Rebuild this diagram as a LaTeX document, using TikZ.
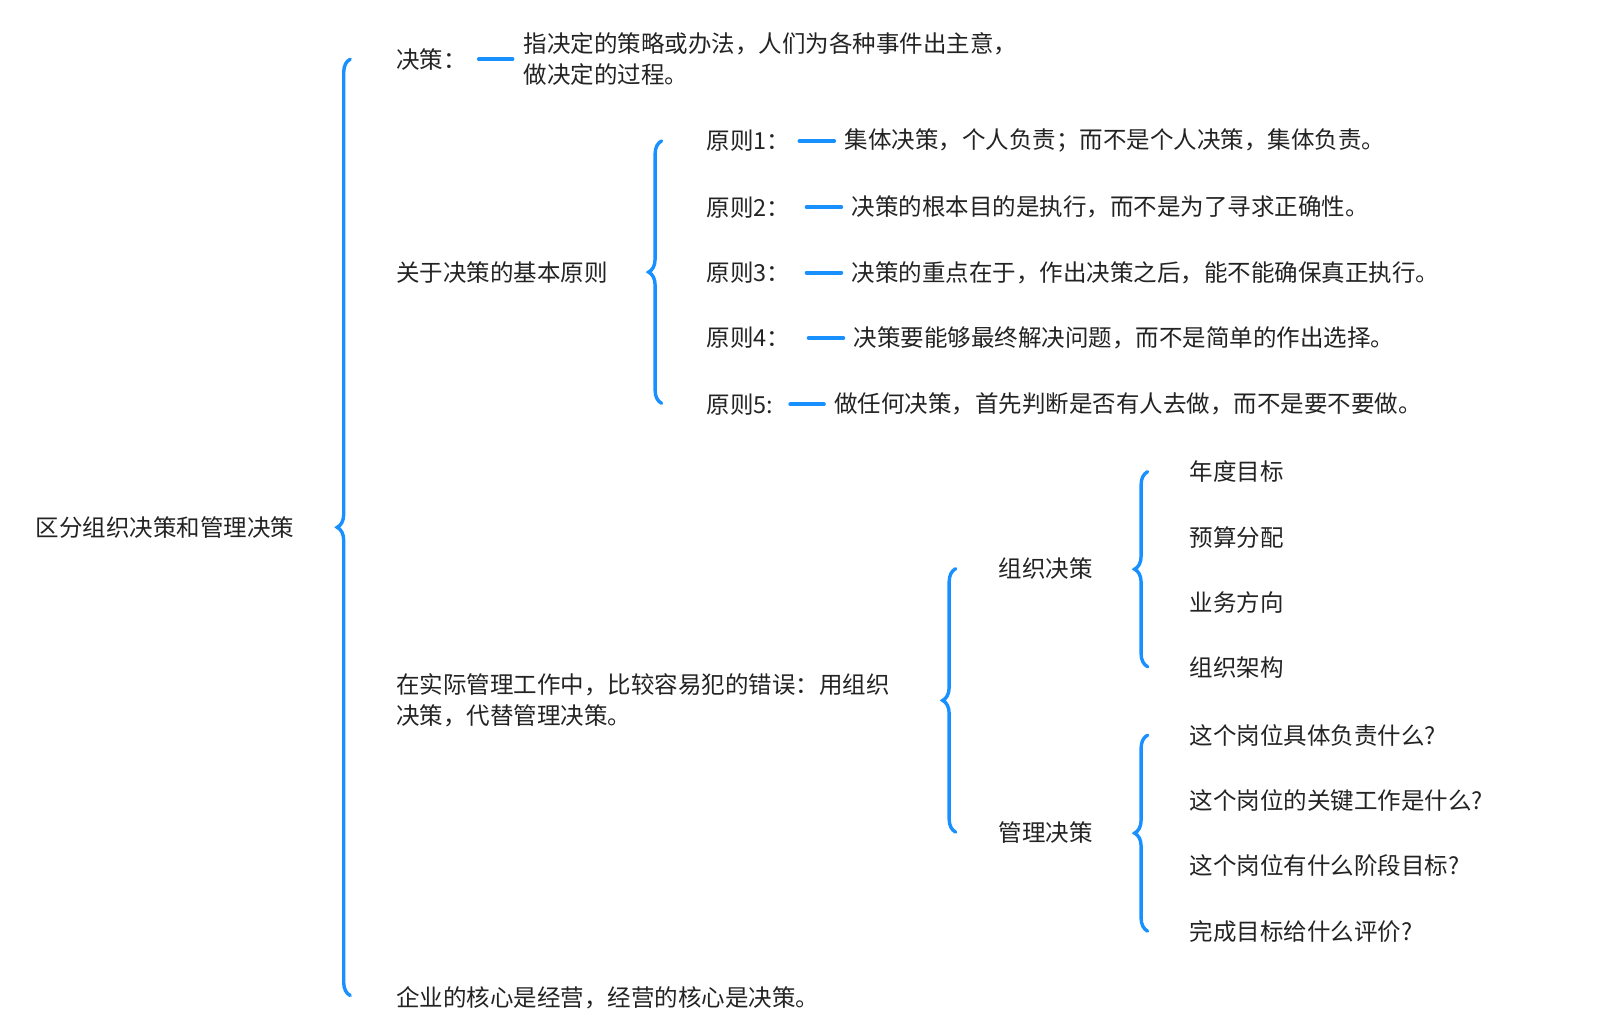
\documentclass[tikz,border=0pt]{standalone}
\usepackage{fontspec}
\setmainfont{Noto Sans CJK SC}
\usetikzlibrary{decorations.pathreplacing}
\definecolor{bl}{RGB}{24,144,255}
\definecolor{tx}{RGB}{35,35,35}
\begin{document}
\begin{tikzpicture}[x=1.021pt,y=-1.021pt,
  t/.style={anchor=west,inner sep=0pt,text=tx,font=\fontsize{23.5}{31.5}\selectfont,align=left},
  br/.style={draw=bl,line width=3.4pt,line cap=round,decorate,decoration={brace,amplitude=13pt}},
  dsh/.style={draw=bl,line width=3.8pt,line cap=round}]
\useasboundingbox (0pt,0pt) rectangle (1600pt,-1029pt);
\node[t] (root) at (35,517) {区分组织决策和管理决策};
\draw[br] (343,975) -- (343,58);
\node[t] (jc) at (388,58) {决策：};
\draw[dsh] (469,58) -- (502,58);
\node[t] (jcd) at (513,58) {指决定的策略或办法，人们为各种事件出主意，\\做决定的过程。};
\node[t] (yz) at (388,267) {关于决策的基本原则};
\draw[br] (648,395) -- (648,138);
\node[t] (p1) at (692,138) {原则1：}; \draw[dsh] (783,138) -- (817,138);
\node[t] at (827,138) {集体决策，个人负责；而不是个人决策，集体负责。};
\node[t] (p2) at (692,203) {原则2：}; \draw[dsh] (790,203) -- (824,203);
\node[t] at (834,203) {决策的根本目的是执行，而不是为了寻求正确性。};
\node[t] (p3) at (692,267) {原则3：}; \draw[dsh] (790,267) -- (824,267);
\node[t] at (834,267) {决策的重点在于，作出决策之后，能不能确保真正执行。};
\node[t] (p4) at (692,331) {原则4：}; \draw[dsh] (792,331) -- (826,331);
\node[t] at (836,331) {决策要能够最终解决问题，而不是简单的作出选择。};
\node[t] (p5) at (692,396) {原则5:}; \draw[dsh] (774,396) -- (807,396);
\node[t] at (817,396) {做任何决策，首先判断是否有人去做，而不是要不要做。};
\node[t] (cw) at (388,686) {在实际管理工作中，比较容易犯的错误：用组织\\决策，代替管理决策。};
\draw[br] (936,815) -- (936,557);
\node[t] (zz) at (978,557) {组织决策};
\draw[br] (1124,653) -- (1124,462);
\node[t] at (1165,462) {年度目标};
\node[t] at (1165,526) {预算分配};
\node[t] at (1165,590) {业务方向};
\node[t] at (1165,654) {组织架构};
\node[t] (gl) at (978,815) {管理决策};
\draw[br] (1124,912) -- (1124,720);
\node[t] at (1165,720) {这个岗位具体负责什么?};
\node[t] at (1165,784) {这个岗位的关键工作是什么?};
\node[t] at (1165,848) {这个岗位有什么阶段目标?};
\node[t] at (1165,912) {完成目标给什么评价?};
\node[t] (hx) at (388,977) {企业的核心是经营，经营的核心是决策。};
\end{tikzpicture}
\end{document}
